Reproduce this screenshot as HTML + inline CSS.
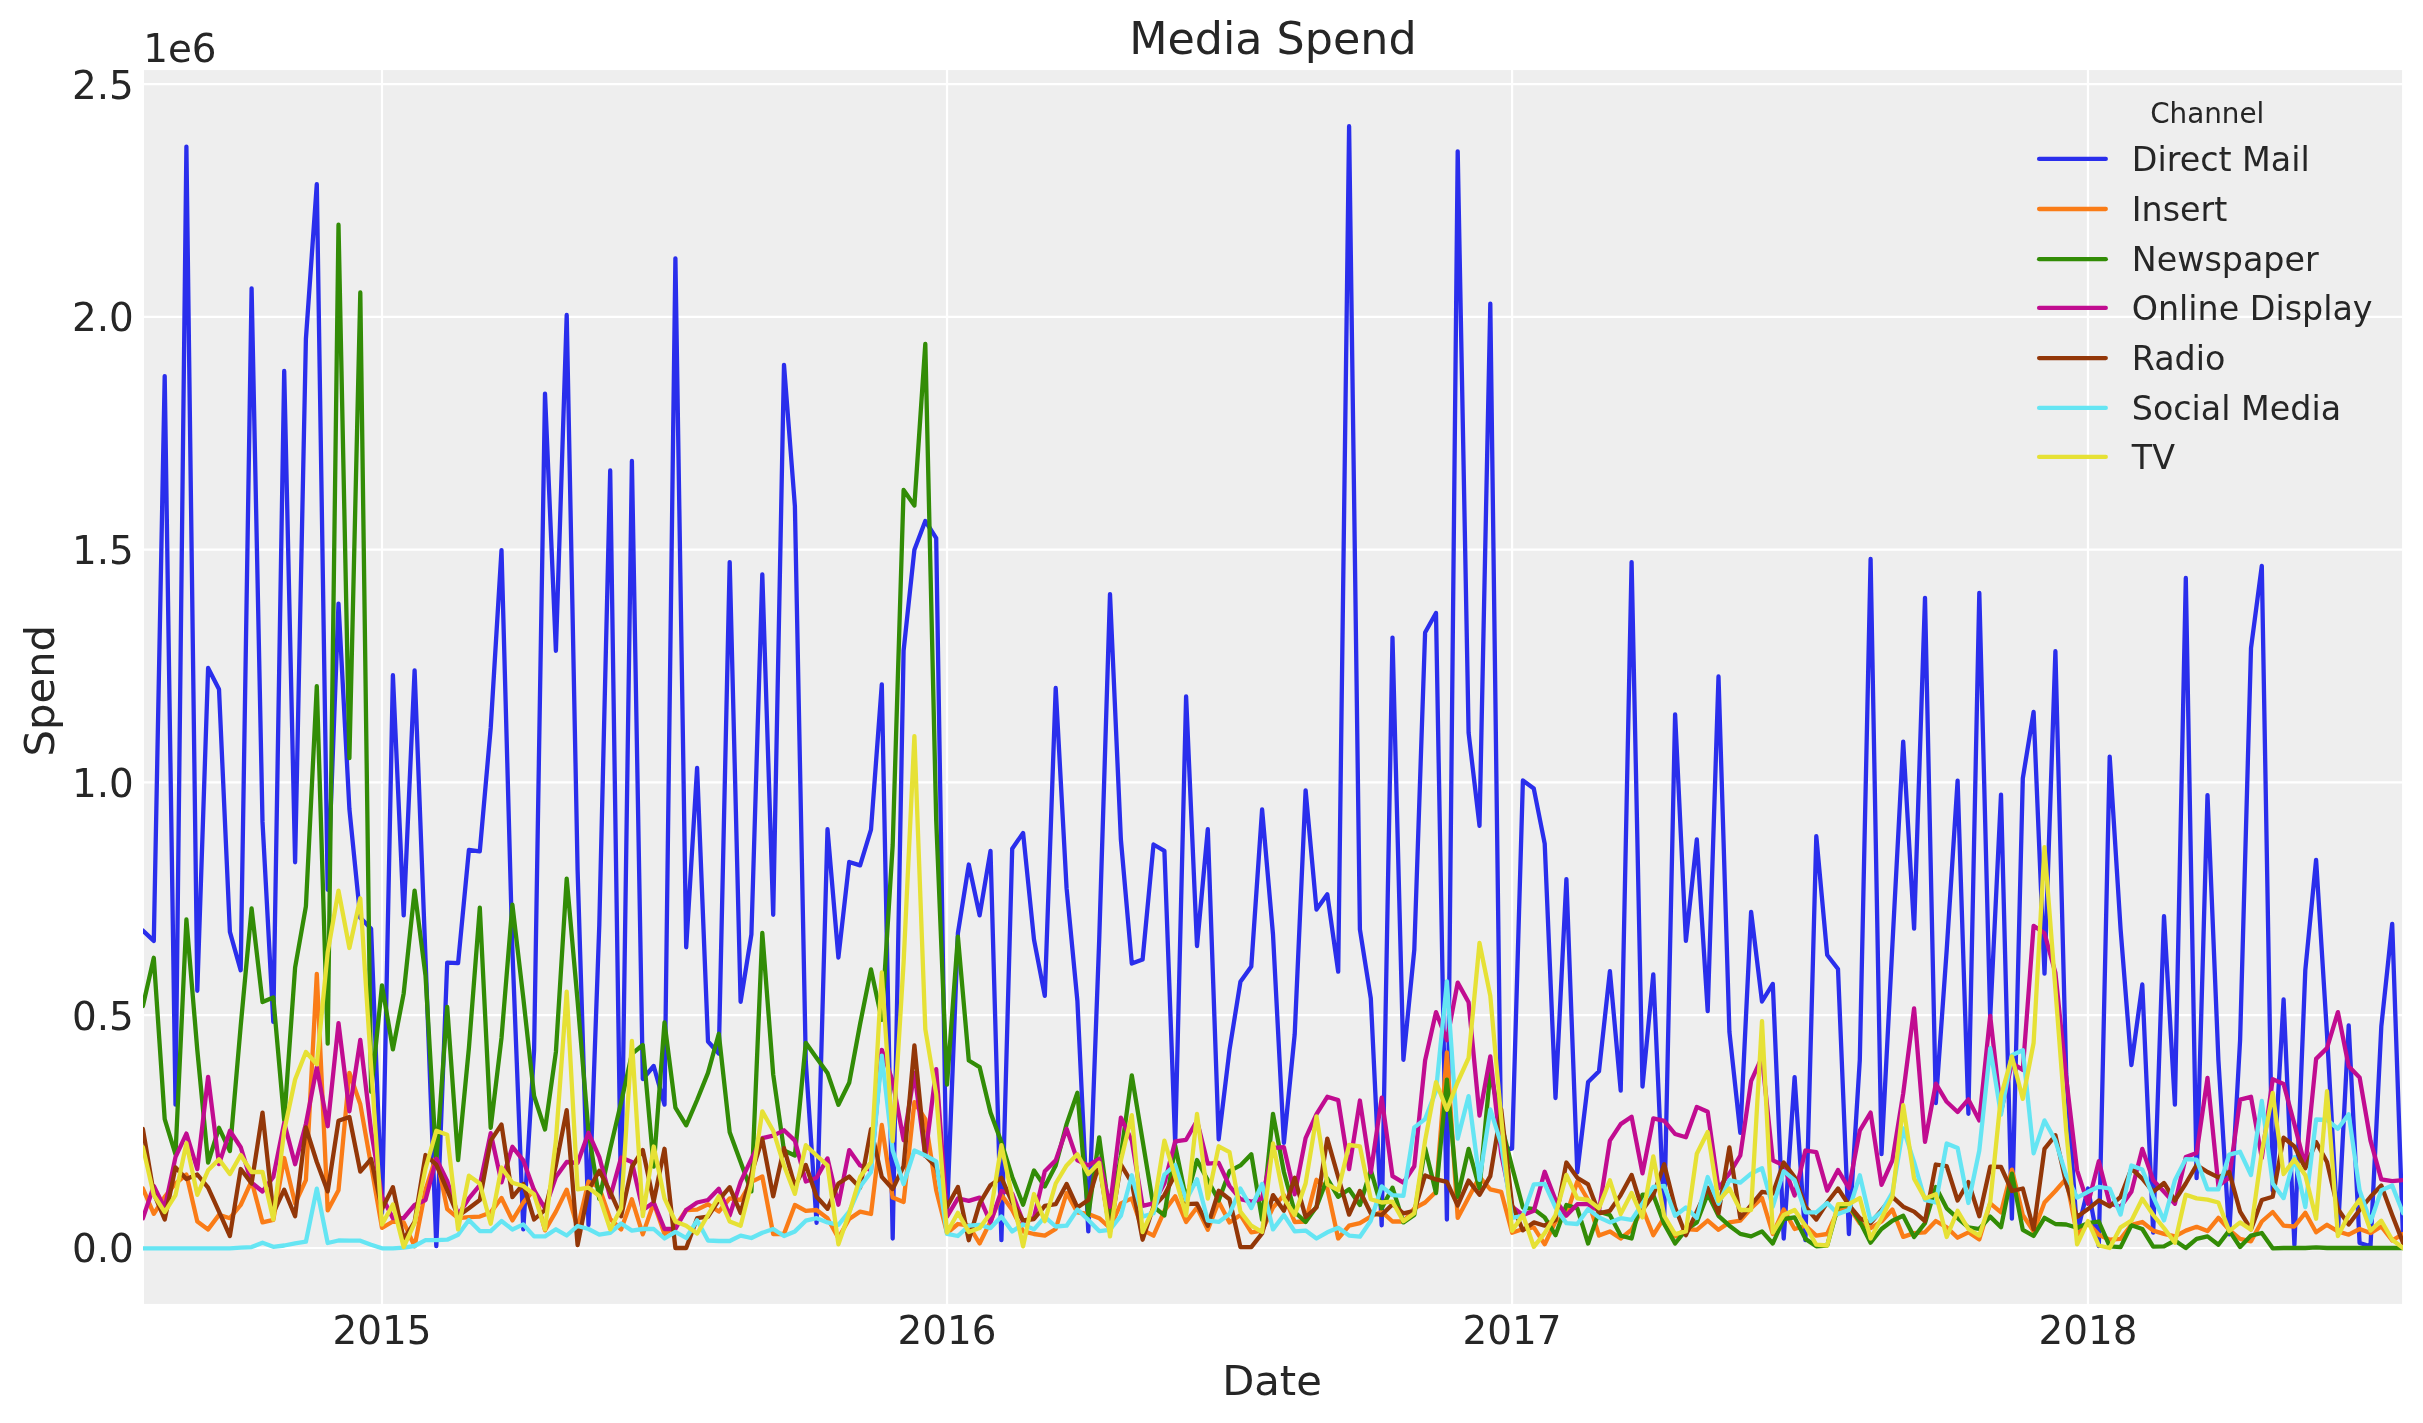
<!DOCTYPE html>
<html><head><meta charset="utf-8"><title>Media Spend</title>
<style>html,body{margin:0;padding:0;background:#fff;}body{width:2423px;height:1423px;overflow:hidden;}svg{display:block;}text{font-family:"DejaVu Sans","Liberation Sans",sans-serif;fill:#262626;}svg{will-change:transform;}</style></head><body>
<svg width="2423" height="1423" viewBox="0 0 2423 1423">
<rect x="0" y="0" width="2423" height="1423" fill="#ffffff"/>
<rect x="144.0" y="70.1" width="2258.1" height="1233.8" fill="#eeeeee"/>
<g stroke="#ffffff" stroke-width="2.2" fill="none">
<line x1="382.00" y1="70.1" x2="382.00" y2="1303.9"/>
<line x1="947.03" y1="70.1" x2="947.03" y2="1303.9"/>
<line x1="1512.07" y1="70.1" x2="1512.07" y2="1303.9"/>
<line x1="2087.96" y1="70.1" x2="2087.96" y2="1303.9"/>
<line x1="144.0" y1="1248.00" x2="2402.1" y2="1248.00"/>
<line x1="144.0" y1="1015.22" x2="2402.1" y2="1015.22"/>
<line x1="144.0" y1="782.44" x2="2402.1" y2="782.44"/>
<line x1="144.0" y1="549.66" x2="2402.1" y2="549.66"/>
<line x1="144.0" y1="316.88" x2="2402.1" y2="316.88"/>
<line x1="144.0" y1="84.10" x2="2402.1" y2="84.10"/>
</g>
<defs><clipPath id="c"><rect x="142.9" y="70.1" width="2260.2" height="1233.8"/></clipPath></defs>
<g clip-path="url(#c)" fill="none" stroke-width="4.3" stroke-linejoin="round" stroke-linecap="round">
<polyline stroke="#2a2eec" points="142.9,930.6 153.8,940.9 164.7,376.1 175.5,1104.6 186.4,146.6 197.3,990.8 208.1,668.0 219.0,689.2 229.9,931.9 240.7,970.3 251.6,288.4 262.5,821.9 273.3,1021.8 284.2,371.0 295.1,862.3 305.9,339.0 316.8,184.2 327.7,889.8 338.5,603.6 349.4,809.0 360.3,917.8 371.1,928.8 382.0,1213.0 392.9,675.2 403.7,915.3 414.6,670.3 425.5,958.0 436.3,1246.2 447.2,962.6 458.1,963.1 468.9,850.0 479.8,851.3 490.7,728.0 501.5,550.1 512.4,950.0 523.3,1229.4 534.1,1050.0 545.0,393.6 555.9,650.8 566.7,315.0 577.6,870.0 588.5,1225.0 599.3,925.0 610.2,470.5 621.1,1205.0 631.9,461.0 642.8,1079.0 653.7,1066.0 664.5,1104.6 675.4,258.4 686.2,947.3 697.1,767.8 708.0,1041.5 718.8,1053.5 729.7,562.1 740.6,1001.8 751.4,934.5 762.3,574.4 773.2,914.8 784.0,364.9 794.9,506.2 805.8,1062.0 816.6,1222.8 827.5,829.2 838.4,957.5 849.2,862.0 860.1,865.4 871.0,829.6 881.8,684.4 892.7,1238.5 903.6,650.8 914.4,549.7 925.3,521.0 936.2,538.2 947.0,1215.0 957.9,933.2 968.8,864.5 979.6,915.3 990.5,850.9 1001.4,1240.2 1012.2,848.7 1023.1,832.9 1034.0,939.6 1044.8,995.9 1055.7,688.0 1066.6,888.4 1077.4,1001.0 1088.3,1231.4 1099.2,940.0 1110.0,594.1 1120.9,839.8 1131.8,963.5 1142.6,959.5 1153.5,844.5 1164.4,850.8 1175.2,1143.8 1186.1,696.4 1197.0,946.0 1207.8,829.2 1218.7,1139.3 1229.5,1050.0 1240.4,981.8 1251.3,966.5 1262.1,809.5 1273.0,934.5 1283.9,1142.8 1294.7,1034.3 1305.6,790.3 1316.5,909.5 1327.3,894.3 1338.2,971.6 1349.1,126.2 1359.9,929.4 1370.8,998.4 1381.7,1225.3 1392.5,637.6 1403.4,1059.8 1414.3,949.8 1425.1,632.5 1436.0,613.0 1446.9,1219.5 1457.7,151.3 1468.6,732.7 1479.5,825.8 1490.3,303.6 1501.2,1150.0 1512.1,1148.5 1522.9,780.5 1533.8,788.6 1544.7,843.6 1555.5,1098.0 1566.4,879.1 1577.3,1172.3 1588.1,1082.0 1599.0,1071.2 1609.9,971.2 1620.7,1090.6 1631.6,562.1 1642.5,1086.5 1653.3,974.3 1664.2,1218.0 1675.1,714.4 1685.9,940.8 1696.8,839.4 1707.7,1011.2 1718.5,676.5 1729.4,1031.7 1740.3,1132.8 1751.1,911.8 1762.0,1001.5 1772.8,983.9 1783.7,1238.5 1794.6,1077.1 1805.4,1240.2 1816.3,836.1 1827.2,955.0 1838.0,969.0 1848.9,1234.0 1859.8,1060.0 1870.6,559.0 1881.5,1154.2 1892.4,945.0 1903.2,741.7 1914.1,928.6 1925.0,597.9 1935.8,1103.0 1946.7,950.0 1957.6,780.6 1968.4,1113.8 1979.3,592.8 1990.2,1017.8 2001.0,794.6 2011.9,1218.7 2022.8,778.4 2033.6,711.8 2044.5,973.6 2055.4,651.2 2066.2,1074.0 2077.1,1233.0 2088.0,1188.5 2098.8,1246.0 2109.7,756.6 2120.6,929.4 2131.4,1065.0 2142.3,984.5 2153.2,1232.7 2164.0,916.2 2174.9,1104.6 2185.8,578.0 2196.6,1178.2 2207.5,795.1 2218.4,1060.0 2229.2,1234.4 2240.1,1040.0 2251.0,648.2 2261.8,565.9 2272.7,1190.8 2283.6,999.3 2294.4,1245.0 2305.3,970.3 2316.1,859.8 2327.0,1034.0 2337.9,1232.7 2348.7,1025.4 2359.6,1243.0 2370.5,1246.3 2381.3,1026.6 2392.2,923.8 2403.1,1240.0"/>
<polyline stroke="#fa7c17" points="142.9,1188.5 153.8,1213.8 164.7,1196.8 175.5,1183.5 186.4,1174.5 197.3,1221.5 208.1,1229.4 219.0,1214.9 229.9,1218.2 240.7,1205.0 251.6,1181.0 262.5,1222.4 273.3,1219.9 284.2,1158.0 295.1,1203.5 305.9,1180.2 316.8,973.8 327.7,1210.4 338.5,1190.2 349.4,1072.8 360.3,1104.3 371.1,1165.4 382.0,1227.8 392.9,1221.5 403.7,1222.4 414.6,1246.3 425.5,1190.0 436.3,1155.8 447.2,1209.1 458.1,1218.2 468.9,1217.1 479.8,1216.6 490.7,1212.4 501.5,1198.0 512.4,1220.4 523.3,1202.5 534.1,1189.7 545.0,1230.3 555.9,1211.6 566.7,1189.7 577.6,1228.0 588.5,1181.5 599.3,1187.7 610.2,1219.0 621.1,1229.4 631.9,1199.3 642.8,1234.4 653.7,1203.0 664.5,1234.0 675.4,1226.5 686.2,1210.0 697.1,1209.6 708.0,1204.2 718.8,1211.6 729.7,1198.4 740.6,1200.0 751.4,1181.9 762.3,1176.5 773.2,1234.0 784.0,1234.0 794.9,1205.0 805.8,1210.8 816.6,1210.0 827.5,1218.2 838.4,1238.0 849.2,1219.0 860.1,1211.6 871.0,1214.0 881.8,1125.0 892.7,1197.6 903.6,1202.0 914.4,1102.2 925.3,1119.1 936.2,1190.2 947.0,1233.0 957.9,1224.0 968.8,1225.7 979.6,1243.5 990.5,1221.5 1001.4,1194.7 1012.2,1210.0 1023.1,1231.4 1034.0,1234.0 1044.8,1235.6 1055.7,1229.0 1066.6,1193.0 1077.4,1212.4 1088.3,1214.0 1099.2,1218.2 1110.0,1228.0 1120.9,1203.4 1131.8,1198.4 1142.6,1229.8 1153.5,1235.7 1164.4,1210.8 1175.2,1196.3 1186.1,1221.9 1197.0,1207.5 1207.8,1229.8 1218.7,1201.7 1229.5,1222.4 1240.4,1214.9 1251.3,1232.3 1262.1,1230.6 1273.0,1207.5 1283.9,1195.1 1294.7,1222.0 1305.6,1221.5 1316.5,1179.8 1327.3,1188.5 1338.2,1238.5 1349.1,1225.7 1359.9,1223.2 1370.8,1216.6 1381.7,1211.6 1392.5,1221.5 1403.4,1221.5 1414.3,1208.3 1425.1,1202.5 1436.0,1191.8 1446.9,1052.3 1457.7,1217.9 1468.6,1197.6 1479.5,1177.0 1490.3,1189.3 1501.2,1191.8 1512.1,1232.7 1522.9,1229.0 1533.8,1227.3 1544.7,1244.3 1555.5,1221.5 1566.4,1215.0 1577.3,1181.5 1588.1,1200.0 1599.0,1235.6 1609.9,1231.4 1620.7,1238.5 1631.6,1229.8 1642.5,1208.3 1653.3,1235.2 1664.2,1217.4 1675.1,1236.4 1685.9,1229.0 1696.8,1229.8 1707.7,1220.6 1718.5,1229.8 1729.4,1222.4 1740.3,1220.7 1751.1,1208.3 1762.0,1198.0 1772.8,1234.0 1783.7,1209.5 1794.6,1229.0 1805.4,1225.7 1816.3,1235.6 1827.2,1234.0 1838.0,1210.0 1848.9,1206.7 1859.8,1223.2 1870.6,1228.1 1881.5,1221.5 1892.4,1209.5 1903.2,1236.9 1914.1,1233.1 1925.0,1232.3 1935.8,1221.0 1946.7,1227.3 1957.6,1237.7 1968.4,1232.3 1979.3,1239.4 1990.2,1203.4 2001.0,1212.4 2011.9,1169.6 2022.8,1215.0 2033.6,1231.4 2044.5,1202.5 2055.4,1191.0 2066.2,1178.6 2077.1,1234.7 2088.0,1223.2 2098.8,1234.7 2109.7,1239.7 2120.6,1238.9 2131.4,1224.8 2142.3,1222.0 2153.2,1230.6 2164.0,1233.9 2174.9,1236.4 2185.8,1230.6 2196.6,1226.8 2207.5,1231.1 2218.4,1217.8 2229.2,1229.8 2240.1,1238.9 2251.0,1241.3 2261.8,1221.5 2272.7,1212.0 2283.6,1225.7 2294.4,1226.5 2305.3,1212.8 2316.1,1232.3 2327.0,1224.8 2337.9,1231.4 2348.7,1234.7 2359.6,1229.0 2370.5,1233.1 2381.3,1226.5 2392.2,1240.5 2403.1,1233.9"/>
<polyline stroke="#328c06" points="142.9,1006.0 153.8,957.8 164.7,1119.1 175.5,1154.3 186.4,919.5 197.3,1050.0 208.1,1162.5 219.0,1127.8 229.9,1151.0 240.7,1026.0 251.6,908.5 262.5,1002.0 273.3,997.5 284.2,1120.3 295.1,967.7 305.9,906.3 316.8,686.2 327.7,1043.6 338.5,224.7 349.4,758.2 360.3,292.5 371.1,1091.8 382.0,985.3 392.9,1049.4 403.7,993.3 414.6,890.6 425.5,975.4 436.3,1160.8 447.2,1007.0 458.1,1160.0 468.9,1048.0 479.8,907.7 490.7,1127.8 501.5,1038.0 512.4,904.7 523.3,998.0 534.1,1096.0 545.0,1129.5 555.9,1052.0 566.7,878.6 577.6,1001.0 588.5,1132.0 599.3,1198.8 610.2,1148.9 621.1,1102.6 631.9,1053.9 642.8,1045.0 653.7,1166.6 664.5,1022.4 675.4,1107.6 686.2,1125.3 697.1,1100.0 708.0,1072.9 718.8,1033.8 729.7,1132.3 740.6,1162.0 751.4,1191.4 762.3,932.8 773.2,1074.5 784.0,1150.5 794.9,1155.5 805.8,1042.8 816.6,1058.0 827.5,1072.9 838.4,1104.7 849.2,1082.8 860.1,1024.0 871.0,969.4 881.8,1019.8 892.7,845.0 903.6,490.0 914.4,505.5 925.3,343.9 936.2,820.0 947.0,1084.5 957.9,936.7 968.8,1060.5 979.6,1067.1 990.5,1112.5 1001.4,1142.3 1012.2,1177.0 1023.1,1204.7 1034.0,1170.5 1044.8,1186.5 1055.7,1165.4 1066.6,1124.1 1077.4,1092.8 1088.3,1215.4 1099.2,1137.4 1110.0,1218.2 1120.9,1155.5 1131.8,1075.4 1142.6,1140.6 1153.5,1206.7 1164.4,1215.4 1175.2,1145.8 1186.1,1199.2 1197.0,1160.0 1207.8,1180.2 1218.7,1200.5 1229.5,1171.2 1240.4,1165.4 1251.3,1154.2 1262.1,1219.9 1273.0,1113.8 1283.9,1172.0 1294.7,1212.0 1305.6,1222.0 1316.5,1206.7 1327.3,1178.6 1338.2,1196.8 1349.1,1189.3 1359.9,1205.0 1370.8,1170.0 1381.7,1208.3 1392.5,1187.7 1403.4,1222.4 1414.3,1215.0 1425.1,1148.1 1436.0,1193.1 1446.9,1079.6 1457.7,1196.8 1468.6,1148.9 1479.5,1188.5 1490.3,1071.7 1501.2,1124.0 1512.1,1167.0 1522.9,1207.5 1533.8,1209.1 1544.7,1217.4 1555.5,1235.2 1566.4,1205.0 1577.3,1208.3 1588.1,1243.5 1599.0,1211.6 1609.9,1215.0 1620.7,1235.6 1631.6,1238.5 1642.5,1194.6 1653.3,1195.1 1664.2,1224.0 1675.1,1243.5 1685.9,1229.8 1696.8,1222.4 1707.7,1193.9 1718.5,1215.8 1729.4,1225.7 1740.3,1233.9 1751.1,1236.4 1762.0,1231.4 1772.8,1243.5 1783.7,1219.0 1794.6,1217.4 1805.4,1238.9 1816.3,1246.3 1827.2,1245.5 1838.0,1206.7 1848.9,1205.0 1859.8,1221.5 1870.6,1242.7 1881.5,1229.0 1892.4,1220.7 1903.2,1215.8 1914.1,1237.0 1925.0,1223.2 1935.8,1187.0 1946.7,1208.3 1957.6,1218.2 1968.4,1227.3 1979.3,1229.0 1990.2,1216.6 2001.0,1227.3 2011.9,1173.7 2022.8,1229.8 2033.6,1236.0 2044.5,1217.8 2055.4,1224.0 2066.2,1224.5 2077.1,1227.8 2088.0,1223.2 2098.8,1221.5 2109.7,1246.3 2120.6,1247.1 2131.4,1225.2 2142.3,1229.0 2153.2,1246.6 2164.0,1246.3 2174.9,1240.5 2185.8,1248.0 2196.6,1238.9 2207.5,1236.4 2218.4,1244.7 2229.2,1230.6 2240.1,1247.0 2251.0,1235.6 2261.8,1233.0 2272.7,1248.3 2283.6,1248.0 2294.4,1248.0 2305.3,1248.0 2316.1,1247.3 2327.0,1248.0 2337.9,1248.0 2348.7,1248.0 2359.6,1248.0 2370.5,1248.0 2381.3,1248.0 2392.2,1248.0 2403.1,1248.0"/>
<polyline stroke="#c10c90" points="142.9,1218.2 153.8,1186.0 164.7,1208.3 175.5,1157.1 186.4,1133.6 197.3,1169.1 208.1,1076.8 219.0,1164.2 229.9,1130.8 240.7,1147.2 251.6,1182.7 262.5,1191.5 273.3,1177.0 284.2,1122.9 295.1,1164.2 305.9,1124.0 316.8,1067.2 327.7,1126.2 338.5,1023.1 349.4,1111.3 360.3,1039.9 371.1,1130.7 382.0,1196.8 392.9,1218.2 403.7,1218.0 414.6,1205.0 425.5,1200.0 436.3,1158.8 447.2,1181.0 458.1,1215.0 468.9,1198.4 479.8,1185.2 490.7,1133.2 501.5,1182.3 512.4,1146.8 523.3,1160.4 534.1,1190.2 545.0,1208.3 555.9,1177.0 566.7,1162.0 577.6,1163.0 588.5,1132.8 599.3,1157.1 610.2,1197.2 621.1,1157.5 631.9,1162.0 642.8,1210.0 653.7,1202.5 664.5,1229.0 675.4,1229.0 686.2,1210.0 697.1,1202.5 708.0,1200.0 718.8,1188.8 729.7,1215.4 740.6,1181.9 751.4,1158.8 762.3,1138.1 773.2,1135.7 784.0,1130.3 794.9,1140.6 805.8,1181.5 816.6,1177.8 827.5,1158.4 838.4,1204.7 849.2,1150.1 860.1,1165.4 871.0,1170.3 881.8,1049.8 892.7,1081.2 903.6,1140.2 914.4,1072.8 925.3,1155.9 936.2,1069.2 947.0,1216.6 957.9,1198.4 968.8,1200.9 979.6,1197.6 990.5,1222.5 1001.4,1191.0 1012.2,1193.5 1023.1,1221.5 1034.0,1217.4 1044.8,1171.2 1055.7,1160.4 1066.6,1128.8 1077.4,1160.4 1088.3,1165.4 1099.2,1158.8 1110.0,1206.7 1120.9,1117.6 1131.8,1140.6 1142.6,1205.8 1153.5,1203.4 1164.4,1183.5 1175.2,1141.4 1186.1,1139.8 1197.0,1120.8 1207.8,1163.7 1218.7,1162.9 1229.5,1186.0 1240.4,1199.2 1251.3,1201.7 1262.1,1198.4 1273.0,1148.0 1283.9,1147.2 1294.7,1194.3 1305.6,1138.1 1316.5,1114.2 1327.3,1096.8 1338.2,1100.1 1349.1,1169.1 1359.9,1100.5 1370.8,1172.4 1381.7,1097.7 1392.5,1176.1 1403.4,1182.7 1414.3,1166.2 1425.1,1060.5 1436.0,1012.1 1446.9,1040.3 1457.7,982.6 1468.6,1002.3 1479.5,1115.5 1490.3,1056.4 1501.2,1153.8 1512.1,1206.7 1522.9,1215.0 1533.8,1210.8 1544.7,1171.7 1555.5,1200.0 1566.4,1215.4 1577.3,1204.2 1588.1,1204.2 1599.0,1210.8 1609.9,1140.6 1620.7,1124.1 1631.6,1116.8 1642.5,1173.3 1653.3,1118.4 1664.2,1120.8 1675.1,1134.0 1685.9,1137.3 1696.8,1106.9 1707.7,1111.7 1718.5,1188.5 1729.4,1173.6 1740.3,1155.5 1751.1,1081.2 1762.0,1057.2 1772.8,1160.4 1783.7,1165.4 1794.6,1195.6 1805.4,1150.5 1816.3,1152.2 1827.2,1190.6 1838.0,1170.0 1848.9,1188.2 1859.8,1130.7 1870.6,1112.6 1881.5,1184.8 1892.4,1160.4 1903.2,1093.5 1914.1,1008.3 1925.0,1141.9 1935.8,1083.6 1946.7,1101.8 1957.6,1112.0 1968.4,1099.4 1979.3,1120.4 1990.2,1015.8 2001.0,1111.7 2011.9,1063.0 2022.8,1069.9 2033.6,925.8 2044.5,933.2 2055.4,972.9 2066.2,1078.0 2077.1,1170.3 2088.0,1203.8 2098.8,1161.3 2109.7,1203.4 2120.6,1206.7 2131.4,1191.8 2142.3,1148.9 2153.2,1180.2 2164.0,1191.8 2174.9,1203.8 2185.8,1157.1 2196.6,1153.0 2207.5,1077.9 2218.4,1185.7 2229.2,1177.8 2240.1,1099.6 2251.0,1096.8 2261.8,1157.9 2272.7,1079.1 2283.6,1084.0 2294.4,1124.1 2305.3,1166.7 2316.1,1058.9 2327.0,1048.1 2337.9,1012.1 2348.7,1066.3 2359.6,1077.4 2370.5,1140.6 2381.3,1179.4 2392.2,1181.1 2403.1,1180.2"/>
<polyline stroke="#933708" points="142.9,1129.0 153.8,1193.5 164.7,1219.5 175.5,1167.4 186.4,1179.0 197.3,1174.5 208.1,1187.7 219.0,1211.6 229.9,1236.0 240.7,1169.0 251.6,1183.5 262.5,1112.6 273.3,1213.0 284.2,1189.7 295.1,1216.2 305.9,1127.5 316.8,1162.0 327.7,1191.4 338.5,1120.8 349.4,1117.0 360.3,1171.6 371.1,1159.0 382.0,1209.0 392.9,1187.2 403.7,1239.4 414.6,1222.0 425.5,1155.0 436.3,1164.6 447.2,1190.2 458.1,1216.0 468.9,1208.3 479.8,1200.0 490.7,1140.6 501.5,1124.5 512.4,1197.2 523.3,1184.0 534.1,1219.5 545.0,1210.0 555.9,1165.4 566.7,1110.1 577.6,1245.0 588.5,1190.2 599.3,1170.8 610.2,1191.8 621.1,1216.2 631.9,1167.0 642.8,1150.0 653.7,1201.4 664.5,1148.8 675.4,1248.0 686.2,1248.0 697.1,1218.2 708.0,1216.6 718.8,1200.0 729.7,1187.2 740.6,1213.0 751.4,1173.6 762.3,1139.0 773.2,1196.4 784.0,1148.1 794.9,1186.0 805.8,1165.0 816.6,1196.8 827.5,1208.8 838.4,1183.5 849.2,1176.5 860.1,1187.7 871.0,1129.1 881.8,1176.9 892.7,1189.0 903.6,1166.2 914.4,1045.4 925.3,1155.5 936.2,1167.0 947.0,1206.7 957.9,1187.0 968.8,1240.2 979.6,1203.4 990.5,1185.2 1001.4,1177.7 1012.2,1202.5 1023.1,1220.5 1034.0,1219.0 1044.8,1205.8 1055.7,1204.2 1066.6,1184.0 1077.4,1207.5 1088.3,1200.0 1099.2,1164.2 1110.0,1231.4 1120.9,1164.6 1131.8,1182.7 1142.6,1239.7 1153.5,1206.7 1164.4,1195.1 1175.2,1174.5 1186.1,1204.2 1197.0,1203.7 1207.8,1225.8 1218.7,1190.8 1229.5,1199.2 1240.4,1247.1 1251.3,1247.1 1262.1,1233.4 1273.0,1195.1 1283.9,1210.8 1294.7,1177.8 1305.6,1217.0 1316.5,1207.5 1327.3,1138.7 1338.2,1177.0 1349.1,1214.6 1359.9,1191.0 1370.8,1213.3 1381.7,1215.0 1392.5,1204.2 1403.4,1213.3 1414.3,1210.8 1425.1,1175.4 1436.0,1179.4 1446.9,1181.9 1457.7,1205.5 1468.6,1180.6 1479.5,1194.8 1490.3,1176.1 1501.2,1109.3 1512.1,1205.0 1522.9,1230.3 1533.8,1222.4 1544.7,1225.7 1555.5,1219.9 1566.4,1162.5 1577.3,1177.8 1588.1,1184.4 1599.0,1213.3 1609.9,1210.8 1620.7,1195.1 1631.6,1174.9 1642.5,1210.0 1653.3,1195.1 1664.2,1164.3 1675.1,1207.5 1685.9,1235.2 1696.8,1211.6 1707.7,1187.7 1718.5,1213.3 1729.4,1147.3 1740.3,1218.0 1751.1,1205.0 1762.0,1191.8 1772.8,1193.5 1783.7,1162.5 1794.6,1177.0 1805.4,1206.7 1816.3,1219.5 1827.2,1202.5 1838.0,1188.5 1848.9,1205.0 1859.8,1218.2 1870.6,1223.2 1881.5,1210.0 1892.4,1196.8 1903.2,1206.7 1914.1,1211.6 1925.0,1221.2 1935.8,1164.5 1946.7,1166.2 1957.6,1200.5 1968.4,1182.0 1979.3,1216.2 1990.2,1166.7 2001.0,1167.0 2011.9,1191.0 2022.8,1188.5 2033.6,1229.4 2044.5,1148.9 2055.4,1135.3 2066.2,1183.5 2077.1,1217.0 2088.0,1209.1 2098.8,1200.4 2109.7,1206.3 2120.6,1196.8 2131.4,1168.7 2142.3,1178.6 2153.2,1191.8 2164.0,1183.0 2174.9,1200.5 2185.8,1183.5 2196.6,1165.0 2207.5,1172.0 2218.4,1177.4 2229.2,1172.0 2240.1,1211.6 2251.0,1229.4 2261.8,1200.0 2272.7,1196.8 2283.6,1137.7 2294.4,1146.4 2305.3,1168.3 2316.1,1141.9 2327.0,1162.1 2337.9,1209.1 2348.7,1224.5 2359.6,1210.0 2370.5,1196.8 2381.3,1185.6 2392.2,1215.0 2403.1,1243.0"/>
<polyline stroke="#65e5f3" points="142.9,1248.3 153.8,1248.3 164.7,1248.3 175.5,1248.3 186.4,1248.3 197.3,1248.3 208.1,1248.3 219.0,1248.3 229.9,1248.3 240.7,1247.6 251.6,1247.1 262.5,1242.7 273.3,1246.8 284.2,1245.5 295.1,1243.3 305.9,1241.7 316.8,1188.6 327.7,1243.0 338.5,1240.5 349.4,1240.7 360.3,1240.7 371.1,1244.7 382.0,1248.3 392.9,1248.3 403.7,1247.6 414.6,1246.0 425.5,1240.2 436.3,1240.2 447.2,1239.7 458.1,1234.7 468.9,1220.0 479.8,1231.1 490.7,1231.1 501.5,1221.0 512.4,1229.5 523.3,1224.4 534.1,1236.4 545.0,1236.4 555.9,1229.3 566.7,1235.5 577.6,1226.0 588.5,1229.0 599.3,1234.7 610.2,1232.8 621.1,1223.5 631.9,1230.6 642.8,1229.0 653.7,1229.0 664.5,1238.5 675.4,1231.8 686.2,1238.0 697.1,1220.3 708.0,1240.5 718.8,1241.0 729.7,1241.0 740.6,1235.6 751.4,1238.0 762.3,1232.8 773.2,1229.0 784.0,1236.0 794.9,1231.4 805.8,1220.7 816.6,1218.2 827.5,1222.4 838.4,1224.8 849.2,1211.6 860.1,1186.8 871.0,1172.0 881.8,1055.6 892.7,1150.5 903.6,1184.0 914.4,1150.5 925.3,1155.5 936.2,1161.3 947.0,1233.9 957.9,1236.0 968.8,1225.7 979.6,1224.8 990.5,1228.1 1001.4,1216.6 1012.2,1231.4 1023.1,1224.4 1034.0,1229.4 1044.8,1216.9 1055.7,1226.5 1066.6,1225.7 1077.4,1209.5 1088.3,1219.9 1099.2,1231.1 1110.0,1229.8 1120.9,1215.8 1131.8,1175.3 1142.6,1216.6 1153.5,1213.3 1164.4,1174.5 1175.2,1165.0 1186.1,1200.0 1197.0,1179.3 1207.8,1220.7 1218.7,1221.9 1229.5,1214.1 1240.4,1188.5 1251.3,1208.0 1262.1,1184.0 1273.0,1229.4 1283.9,1215.0 1294.7,1231.4 1305.6,1230.6 1316.5,1238.5 1327.3,1232.3 1338.2,1227.8 1349.1,1235.6 1359.9,1236.7 1370.8,1220.7 1381.7,1186.4 1392.5,1195.1 1403.4,1195.9 1414.3,1127.4 1425.1,1119.1 1436.0,1091.0 1446.9,981.4 1457.7,1138.6 1468.6,1096.1 1479.5,1179.8 1490.3,1109.3 1501.2,1143.9 1512.1,1217.9 1522.9,1215.8 1533.8,1184.4 1544.7,1183.9 1555.5,1207.5 1566.4,1223.2 1577.3,1224.0 1588.1,1209.1 1599.0,1217.4 1609.9,1222.4 1620.7,1218.2 1631.6,1219.9 1642.5,1203.4 1653.3,1186.8 1664.2,1186.0 1675.1,1215.8 1685.9,1207.5 1696.8,1218.0 1707.7,1177.0 1718.5,1203.8 1729.4,1180.2 1740.3,1182.7 1751.1,1173.6 1762.0,1168.2 1772.8,1206.7 1783.7,1171.2 1794.6,1180.2 1805.4,1212.4 1816.3,1212.4 1827.2,1203.0 1838.0,1214.1 1848.9,1210.0 1859.8,1175.3 1870.6,1221.2 1881.5,1211.6 1892.4,1192.6 1903.2,1128.3 1914.1,1162.1 1925.0,1200.0 1935.8,1202.5 1946.7,1143.5 1957.6,1148.0 1968.4,1203.0 1979.3,1150.5 1990.2,1048.2 2001.0,1114.6 2011.9,1055.1 2022.8,1050.2 2033.6,1153.4 2044.5,1120.4 2055.4,1140.6 2066.2,1175.3 2077.1,1197.6 2088.0,1191.8 2098.8,1186.8 2109.7,1188.5 2120.6,1214.6 2131.4,1165.5 2142.3,1169.5 2153.2,1196.8 2164.0,1220.4 2174.9,1180.2 2185.8,1159.1 2196.6,1159.6 2207.5,1189.3 2218.4,1189.3 2229.2,1154.6 2240.1,1151.8 2251.0,1175.0 2261.8,1101.0 2272.7,1183.5 2283.6,1198.1 2294.4,1157.2 2305.3,1207.1 2316.1,1119.5 2327.0,1120.0 2337.9,1128.7 2348.7,1114.3 2359.6,1190.2 2370.5,1222.0 2381.3,1190.2 2392.2,1185.6 2403.1,1213.3"/>
<polyline stroke="#e6e135" points="142.9,1147.2 153.8,1195.1 164.7,1212.1 175.5,1195.1 186.4,1143.2 197.3,1194.8 208.1,1170.3 219.0,1159.2 229.9,1174.1 240.7,1155.0 251.6,1172.0 262.5,1172.0 273.3,1219.5 284.2,1130.7 295.1,1079.5 305.9,1052.0 316.8,1064.3 327.7,952.4 338.5,890.6 349.4,948.0 360.3,898.3 371.1,1066.0 382.0,1224.5 392.9,1204.5 403.7,1247.0 414.6,1223.2 425.5,1168.7 436.3,1130.8 447.2,1134.8 458.1,1229.4 468.9,1175.7 479.8,1183.5 490.7,1223.7 501.5,1167.5 512.4,1182.7 523.3,1186.0 534.1,1194.3 545.0,1229.4 555.9,1140.6 566.7,991.7 577.6,1189.3 588.5,1187.7 599.3,1196.0 610.2,1229.4 621.1,1208.3 631.9,1040.8 642.8,1216.2 653.7,1146.5 664.5,1198.4 675.4,1221.5 686.2,1225.7 697.1,1233.6 708.0,1215.0 718.8,1196.3 729.7,1221.5 740.6,1225.7 751.4,1183.5 762.3,1111.3 773.2,1130.7 784.0,1165.4 794.9,1193.9 805.8,1145.2 816.6,1155.5 827.5,1165.4 838.4,1244.3 849.2,1213.3 860.1,1177.0 871.0,1162.0 881.8,972.5 892.7,1141.1 903.6,962.6 914.4,736.1 925.3,1029.1 936.2,1094.0 947.0,1232.7 957.9,1212.8 968.8,1232.0 979.6,1228.1 990.5,1213.3 1001.4,1145.1 1012.2,1196.8 1023.1,1246.3 1034.0,1194.0 1044.8,1221.2 1055.7,1183.5 1066.6,1165.4 1077.4,1154.2 1088.3,1174.1 1099.2,1162.8 1110.0,1236.4 1120.9,1160.4 1131.8,1115.1 1142.6,1232.0 1153.5,1208.3 1164.4,1140.7 1175.2,1176.9 1186.1,1215.4 1197.0,1113.9 1207.8,1198.5 1218.7,1146.3 1229.5,1152.2 1240.4,1211.6 1251.3,1225.7 1262.1,1232.0 1273.0,1143.5 1283.9,1198.4 1294.7,1215.0 1305.6,1183.5 1316.5,1116.4 1327.3,1184.4 1338.2,1190.2 1349.1,1145.0 1359.9,1146.4 1370.8,1199.2 1381.7,1202.5 1392.5,1201.7 1403.4,1221.2 1414.3,1213.3 1425.1,1140.6 1436.0,1082.1 1446.9,1109.7 1457.7,1082.0 1468.6,1058.0 1479.5,943.0 1490.3,995.9 1501.2,1118.0 1512.1,1230.8 1522.9,1215.0 1533.8,1246.8 1544.7,1233.1 1555.5,1215.0 1566.4,1174.9 1577.3,1198.4 1588.1,1200.0 1599.0,1208.3 1609.9,1180.3 1620.7,1214.1 1631.6,1193.0 1642.5,1217.4 1653.3,1156.4 1664.2,1215.8 1675.1,1234.1 1685.9,1231.4 1696.8,1153.8 1707.7,1132.0 1718.5,1200.9 1729.4,1188.5 1740.3,1210.0 1751.1,1210.0 1762.0,1021.1 1772.8,1232.7 1783.7,1215.0 1794.6,1210.0 1805.4,1225.7 1816.3,1244.7 1827.2,1245.5 1838.0,1204.2 1848.9,1204.2 1859.8,1198.0 1870.6,1238.5 1881.5,1218.2 1892.4,1196.8 1903.2,1105.2 1914.1,1178.6 1925.0,1198.4 1935.8,1194.3 1946.7,1237.0 1957.6,1210.8 1968.4,1229.0 1979.3,1235.6 1990.2,1202.5 2001.0,1096.0 2011.9,1056.5 2022.8,1098.9 2033.6,1043.0 2044.5,847.1 2055.4,989.0 2066.2,1130.7 2077.1,1244.3 2088.0,1221.1 2098.8,1245.5 2109.7,1248.0 2120.6,1227.3 2131.4,1220.7 2142.3,1198.8 2153.2,1215.0 2164.0,1228.1 2174.9,1242.7 2185.8,1194.8 2196.6,1198.4 2207.5,1199.7 2218.4,1202.5 2229.2,1231.1 2240.1,1222.4 2251.0,1229.8 2261.8,1152.2 2272.7,1092.8 2283.6,1174.1 2294.4,1159.2 2305.3,1175.3 2316.1,1218.7 2327.0,1091.1 2337.9,1236.0 2348.7,1215.0 2359.6,1199.6 2370.5,1230.6 2381.3,1220.7 2392.2,1239.7 2403.1,1248.0"/>
</g>
<text x="133.8" y="1262.4" font-size="38.9" text-anchor="end">0.0</text>
<text x="133.8" y="1029.6" font-size="38.9" text-anchor="end">0.5</text>
<text x="133.8" y="796.8" font-size="38.9" text-anchor="end">1.0</text>
<text x="133.8" y="564.1" font-size="38.9" text-anchor="end">1.5</text>
<text x="133.8" y="331.3" font-size="38.9" text-anchor="end">2.0</text>
<text x="133.8" y="98.5" font-size="38.9" text-anchor="end">2.5</text>
<text x="382.0" y="1344" font-size="38.9" text-anchor="middle">2015</text>
<text x="947.0" y="1344" font-size="38.9" text-anchor="middle">2016</text>
<text x="1512.1" y="1344" font-size="38.9" text-anchor="middle">2017</text>
<text x="2088.0" y="1344" font-size="38.9" text-anchor="middle">2018</text>
<text x="143.2" y="62.3" font-size="38.9">1e6</text>
<text x="1272.9" y="53.9" font-size="44.4" text-anchor="middle">Media Spend</text>
<text x="1272.0" y="1395" font-size="41.7" text-anchor="middle">Date</text>
<text transform="translate(54.2,690.7) rotate(-90)" font-size="41.7" text-anchor="middle">Spend</text>
<text x="2207.2" y="123.0" font-size="27.8" text-anchor="middle">Channel</text>
<line x1="2039.1" y1="158.9" x2="2105.8" y2="158.9" stroke="#2a2eec" stroke-width="4.3" stroke-linecap="round"/>
<text x="2131.8" y="170.6" font-size="33.3">Direct Mail</text>
<line x1="2039.1" y1="209.0" x2="2105.8" y2="209.0" stroke="#fa7c17" stroke-width="4.3" stroke-linecap="round"/>
<text x="2131.8" y="220.7" font-size="33.3">Insert</text>
<line x1="2039.1" y1="259.2" x2="2105.8" y2="259.2" stroke="#328c06" stroke-width="4.3" stroke-linecap="round"/>
<text x="2131.8" y="270.9" font-size="33.3">Newspaper</text>
<line x1="2039.1" y1="307.9" x2="2105.8" y2="307.9" stroke="#c10c90" stroke-width="4.3" stroke-linecap="round"/>
<text x="2131.8" y="319.6" font-size="33.3">Online Display</text>
<line x1="2039.1" y1="358.1" x2="2105.8" y2="358.1" stroke="#933708" stroke-width="4.3" stroke-linecap="round"/>
<text x="2131.8" y="369.8" font-size="33.3">Radio</text>
<line x1="2039.1" y1="407.9" x2="2105.8" y2="407.9" stroke="#65e5f3" stroke-width="4.3" stroke-linecap="round"/>
<text x="2131.8" y="419.6" font-size="33.3">Social Media</text>
<line x1="2039.1" y1="456.9" x2="2105.8" y2="456.9" stroke="#e6e135" stroke-width="4.3" stroke-linecap="round"/>
<text x="2131.8" y="468.6" font-size="33.3">TV</text>
</svg>
</body></html>
